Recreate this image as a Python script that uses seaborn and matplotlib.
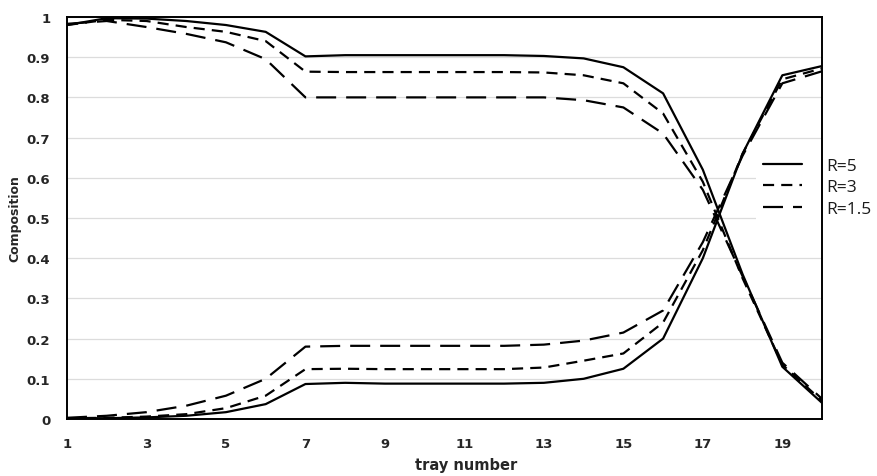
import pandas as pd
import matplotlib
matplotlib.use("Agg")
import matplotlib.pyplot as plt
import seaborn as sns

# tray numbers 1..20
trays = list(range(1, 21))

# upper curves (falling)
r5_top = [0.98, 0.997, 0.996, 0.99, 0.98, 0.963, 0.902, 0.905, 0.905, 0.905,
          0.905, 0.905, 0.903, 0.897, 0.875, 0.81, 0.62, 0.36, 0.13, 0.04]
r3_top = [0.98, 0.993, 0.99, 0.975, 0.963, 0.94, 0.864, 0.863, 0.863, 0.863,
          0.863, 0.863, 0.862, 0.855, 0.835, 0.76, 0.59, 0.35, 0.135, 0.045]
r15_top = [0.983, 0.99, 0.975, 0.958, 0.937, 0.895, 0.80, 0.80, 0.80, 0.80,
           0.80, 0.80, 0.80, 0.793, 0.775, 0.71, 0.57, 0.355, 0.14, 0.05]

# lower curves (rising)
r5_bot = [0.002, 0.002, 0.004, 0.008, 0.017, 0.037, 0.087, 0.09, 0.088, 0.088,
          0.088, 0.088, 0.09, 0.10, 0.125, 0.20, 0.40, 0.66, 0.855, 0.878]
r3_bot = [0.002, 0.003, 0.006, 0.012, 0.027, 0.058, 0.124, 0.125, 0.124, 0.124,
          0.124, 0.124, 0.128, 0.145, 0.163, 0.24, 0.42, 0.66, 0.845, 0.872]
r15_bot = [0.003, 0.008, 0.017, 0.033, 0.058, 0.10, 0.18, 0.182, 0.182, 0.182,
           0.182, 0.182, 0.185, 0.195, 0.215, 0.27, 0.44, 0.655, 0.835, 0.865]

labels = ["R=5", "R=3", "R=1.5"]

rows = []
for lab, top, bot in zip(labels, [r5_top, r3_top, r15_top], [r5_bot, r3_bot, r15_bot]):
    for t, v in zip(trays, top):
        rows.append((t, v, lab, "top"))
    for t, v in zip(trays, bot):
        rows.append((t, v, lab, "bottom"))
df = pd.DataFrame(rows, columns=["tray", "comp", "R", "curve"])

sns.set_style("white")
plt.rcParams["font.family"] = ["DejaVu Sans"]

fig = plt.figure(figsize=(8.78, 4.77), dpi=100)
ax = fig.add_axes([0.0763, 0.1195, 0.8600, 0.8428])

sns.lineplot(data=df, x="tray", y="comp", style="R", units="curve", estimator=None,
             style_order=labels,
             dashes={"R=5": "", "R=3": (5, 3.2), "R=1.5": (9, 4.5)},
             color="black", linewidth=1.6, ax=ax, legend=True)

ax.set_xlim(1, 20)
ax.set_ylim(0, 1)
ax.set_xticks(range(1, 20, 2))
ax.set_yticks([i / 10 for i in range(11)])
ax.set_yticklabels(["0"] + [f"0.{i}" for i in range(1, 10)] + ["1"])
ax.tick_params(axis="both", length=0, labelsize=9.5, colors="#262626")
ax.tick_params(axis="y", pad=12)
ax.tick_params(axis="x", pad=13)
for lbl in ax.get_xticklabels() + ax.get_yticklabels():
    lbl.set_fontweight("bold")

ax.grid(axis="y", color="#dcdcdc", linewidth=0.9)
ax.set_axisbelow(True)
for s in ax.spines.values():
    s.set_color("black")
    s.set_linewidth(1.4)
    s.set_zorder(3)

ax.set_xlabel("tray number", fontsize=10.5, fontweight="bold", color="#262626")
ax.set_ylabel("Composition", fontsize=9, fontweight="bold", color="#262626")
ax.xaxis.set_label_coords(0.528, -0.095)
ax.yaxis.set_label_coords(-0.06, 0.5)

handles, labs = ax.get_legend_handles_labels()
leg = ax.legend(handles, labs, loc="upper left", bbox_to_anchor=(0.913, 0.667),
                borderaxespad=0, borderpad=0.4, handlelength=2.2, handletextpad=1.45,
                labelspacing=0.3, frameon=True, fancybox=False, framealpha=1,
                edgecolor="none", facecolor="white",
                prop={"family": "Open Sans", "size": 12.5})
leg.set_zorder(2.2)
for t in leg.get_texts():
    t.set_color("#1a1a1a")
for h in leg.get_lines():
    h.set_linewidth(1.6)

fig.savefig("out.png", dpi=100)
